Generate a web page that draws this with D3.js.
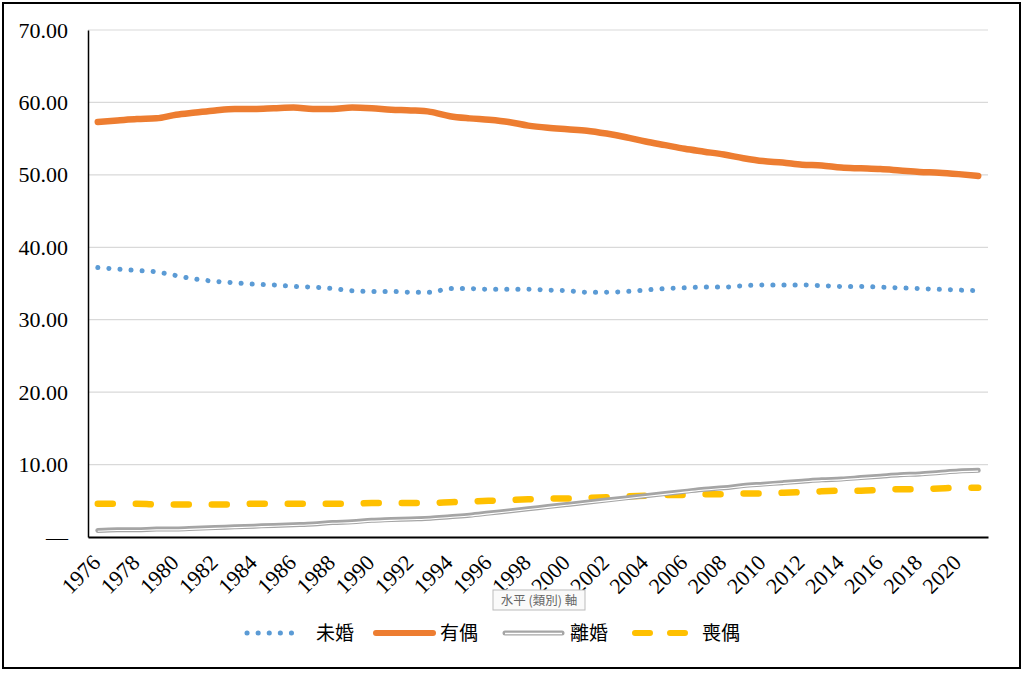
<!DOCTYPE html>
<html><head><meta charset="utf-8">
<script src="https://cdn.jsdelivr.net/npm/d3@7/dist/d3.min.js"></script>
<style>body{margin:0;background:#fff}svg{display:block}</style>
</head><body>
<svg id="c" width="1024" height="673"></svg>
<script>
const years = d3.range(1976, 2022);
const tickYears = d3.range(1976, 2021, 2);
const yTicks = [0, 10, 20, 30, 40, 50, 60, 70];
const seriesNames = ["未婚", "有偶", "離婚", "喪偶"];
const single = [37.2,37.0,36.8,36.6,36.1,35.6,35.3,35.1,34.9,34.8,34.6,34.5,34.3,34.0,33.9,33.9,33.8,33.8,34.3,34.3,34.2,34.2,34.2,34.1,34.0,33.8,33.8,33.9,34.1,34.3,34.4,34.5,34.5,34.7,34.8,34.8,34.8,34.7,34.6,34.6,34.5,34.4,34.3,34.2,34.1,34.0];
const married = [57.3,57.5,57.7,57.8,58.3,58.6,58.9,59.1,59.1,59.2,59.3,59.1,59.1,59.3,59.2,59.0,58.9,58.7,58.1,57.8,57.6,57.3,56.8,56.5,56.3,56.1,55.7,55.2,54.6,54.1,53.6,53.2,52.8,52.3,51.9,51.7,51.4,51.3,51.0,50.9,50.8,50.6,50.4,50.3,50.1,49.85];
const divorced = [0.9,1.0,1.0,1.1,1.1,1.2,1.3,1.4,1.5,1.6,1.7,1.8,2.0,2.1,2.3,2.4,2.5,2.6,2.8,3.0,3.3,3.6,3.9,4.2,4.5,4.8,5.1,5.4,5.7,6.0,6.3,6.6,6.8,7.1,7.3,7.5,7.7,7.9,8.0,8.2,8.4,8.6,8.7,8.9,9.1,9.2];
const widowed = [4.6,4.6,4.6,4.5,4.5,4.5,4.5,4.5,4.6,4.6,4.6,4.6,4.6,4.6,4.7,4.7,4.7,4.7,4.8,4.9,5.0,5.1,5.2,5.3,5.3,5.4,5.5,5.6,5.7,5.8,5.8,5.9,5.9,6.0,6.0,6.1,6.2,6.3,6.4,6.4,6.5,6.6,6.6,6.7,6.8,6.8];

const svg = d3.select("#c");
const L = 88, R = 988, T = 30, B = 537;
const x = d3.scaleBand().domain(years).range([L, R]);
const cx = d => x(d) + x.bandwidth() / 2;
const y = d3.scaleLinear().domain([0, 70]).range([B, T]);

// frame
svg.append("rect").attr("x", 3).attr("y", 3).attr("width", 1017).attr("height", 665)
  .attr("fill", "#fff").attr("stroke", "#000").attr("stroke-width", 2);

// gridlines
svg.append("g").selectAll("line").data(yTicks.filter(t => t > 0)).join("line")
  .attr("x1", L).attr("x2", R).attr("y1", d => y(d)).attr("y2", d => y(d))
  .attr("stroke", "#D9D9D9").attr("stroke-width", 1.2);

// y axis labels
const yAxis = d3.axisLeft(y).tickValues(yTicks).tickSize(0).tickPadding(20)
  .tickFormat(d => d === 0 ? "—" : d3.format(".2f")(d));
const ya = svg.append("g").attr("transform", `translate(${L},0)`).call(yAxis);
ya.select(".domain").attr("stroke", "#000").attr("stroke-width", 1.5);
ya.selectAll("text").attr("font-family", "Liberation Serif").attr("font-size", 22).attr("fill", "#000");

// x axis
const xAxis = d3.axisBottom(x).tickValues(tickYears).tickSize(0).tickFormat(d3.format("d"));
const xa = svg.append("g").attr("transform", `translate(0,${B})`).call(xAxis);
xa.select(".domain").attr("stroke", "#000").attr("stroke-width", 1.8);
xa.selectAll("text").attr("font-family", "Liberation Serif").attr("font-size", 22).attr("fill", "#000")
  .attr("text-anchor", "end").attr("dy", null).attr("y", 0)
  .attr("transform", "translate(4,27) rotate(-45)");

const line = d3.line().x((d, i) => cx(years[i])).y(d => y(d)).curve(d3.curveMonotoneX);

// widowed
svg.append("path").attr("d", line(widowed)).attr("fill", "none")
  .attr("stroke", "#FFC000").attr("stroke-width", 6.5).attr("stroke-linecap", "round")
  .attr("stroke-dasharray", "15 23");
// divorced (double line)
svg.append("path").attr("d", line(divorced)).attr("fill", "none")
  .attr("stroke", "#A5A5A5").attr("stroke-width", 5).attr("stroke-linecap", "round");
svg.append("path").attr("d", line(divorced)).attr("fill", "none").attr("transform", "translate(0,0.8)")
  .attr("stroke", "#fff").attr("stroke-width", 1.1);
// married
svg.append("path").attr("d", line(married)).attr("fill", "none")
  .attr("stroke", "#ED7D31").attr("stroke-width", 6.5).attr("stroke-linecap", "round");
// single dotted
svg.append("path").attr("d", line(single)).attr("fill", "none")
  .attr("stroke", "#5B9BD5").attr("stroke-width", 5).attr("stroke-linecap", "round")
  .attr("stroke-dasharray", "0.1 11");

// tooltip
const tip = svg.append("g").attr("transform", "translate(493,590)");
tip.append("rect").attr("width", 92).attr("height", 20).attr("fill", "#fafafa")
  .attr("stroke", "#bbb").attr("stroke-width", 1);
tip.append("text").attr("x", 46).attr("y", 14.5).attr("text-anchor", "middle")
  .attr("font-family", "Noto Sans CJK TC").attr("font-size", 12.5).attr("fill", "#666")
  .text("水平 (類別) 軸");

// legend
const leg = [
  {name: seriesNames[0], x1: 247, x2: 300, tx: 316, color: "#5B9BD5", w: 5, dash: "0.1 11"},
  {name: seriesNames[1], x1: 376, x2: 433, tx: 440, color: "#ED7D31", w: 6, dash: null},
  {name: seriesNames[2], x1: 505, x2: 562, tx: 570, color: "#A5A5A5", w: 5, dash: null, dbl: true},
  {name: seriesNames[3], x1: 635, x2: 690, tx: 702, color: "#FFC000", w: 6, dash: "15 20"}
];
const ly = 633;
const lg = svg.append("g");
leg.forEach(d => {
  lg.append("line").attr("x1", d.x1).attr("x2", d.x2).attr("y1", ly).attr("y2", ly)
    .attr("stroke", d.color).attr("stroke-width", d.w).attr("stroke-linecap", "round")
    .attr("stroke-dasharray", d.dash);
  if (d.dbl) lg.append("line").attr("x1", d.x1).attr("x2", d.x2).attr("y1", ly + 0.5).attr("y2", ly + 0.5)
    .attr("stroke", "#fff").attr("stroke-width", 1.3);
  lg.append("text").attr("x", d.tx).attr("y", ly + 7).attr("font-family", "Noto Sans CJK TC")
    .attr("font-size", 19).attr("fill", "#000").text(d.name);
});
</script>
</body></html>
